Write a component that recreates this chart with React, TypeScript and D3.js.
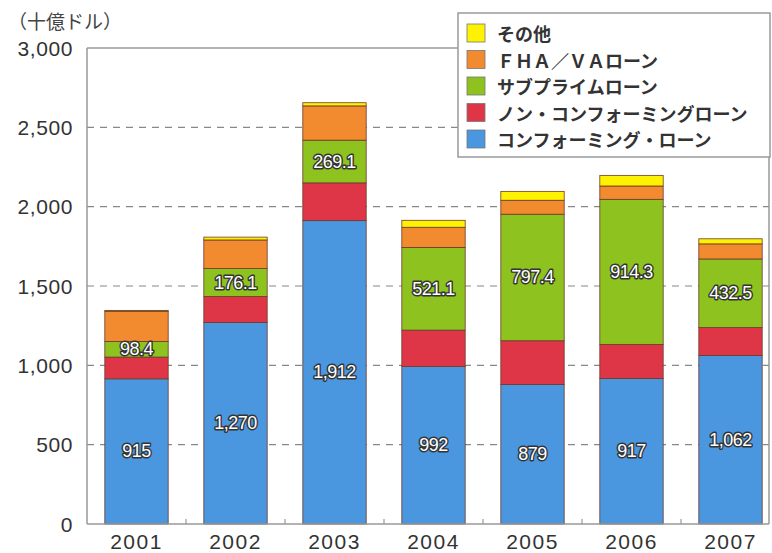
import React from "react";
import * as d3 from "d3";

const years = ["2001", "2002", "2003", "2004", "2005", "2006", "2007"];
const conforming = [915, 1270, 1912, 992, 879, 917, 1062];
const nonConforming = [137, 164, 238, 230, 276, 215, 176];
const subprime = [98.4, 176.1, 269.1, 521.1, 797.4, 914.3, 432.5];
const fhaVa = [190, 180, 216, 127, 88, 84, 95];
const other = [6, 18, 20, 44, 56, 67, 32];

const seriesNames = [
  "コンフォーミング・ローン",
  "ノン・コンフォーミングローン",
  "サブプライムローン",
  "ＦＨＡ／ＶＡローン",
  "その他",
];
const seriesColors = ["#4a97e0", "#de3547", "#8dc21f", "#f28a30", "#fff200"];
const labeledSeries = [0, 2];
const labelTexts = [
  ["915", "1,270", "1,912", "992", "879", "917", "1,062"],
  [],
  ["98.4", "176.1", "269.1", "521.1", "797.4", "914.3", "432.5"],
];
const yTicks = [0, 500, 1000, 1500, 2000, 2500, 3000];
const yTitle = "（十億ドル）";

export default function App() {
  const W = 772, H = 553;
  const left = 87, top = 48, bottom = 524, frameRight = 769;
  const x = d3.scaleBand<string>().domain(years).range([left, 780]).paddingInner(0.36).paddingOuter(0.18);
  const y = d3.scaleLinear().domain([0, 3000]).range([bottom, top]);
  const data = years.map((yr, i) => ({
    year: yr,
    s0: conforming[i], s1: nonConforming[i], s2: subprime[i], s3: fhaVa[i], s4: other[i],
  }));
  const stack = d3.stack<any>().keys(["s0", "s1", "s2", "s3", "s4"]);
  const layers = stack(data);
  const step = x.step();
  const fmt = d3.format(",");
  const font = "'Liberation Sans', Arial, sans-serif";
  const jp = "'Noto Sans CJK JP', sans-serif";

  return (
    <svg width={W} height={H} style={{ position: "absolute", left: 0, top: 0, background: "#fff" }}>
      {yTicks.filter(t => t > 0 && t < 3000).map(t => (
        <line key={t} x1={left} x2={frameRight} y1={y(t)} y2={y(t)} stroke="#888" strokeWidth={1.2} strokeDasharray="7,6" />
      ))}
      {layers.map((layer, li) => (
        <g key={li}>
          {layer.map((d, i) => (
            <rect key={i} x={x(years[i])} width={x.bandwidth()} y={y(d[1])} height={y(d[0]) - y(d[1])}
              fill={seriesColors[li]} stroke="#6a3b2a" strokeWidth={0.8} />
          ))}
        </g>
      ))}
      {labeledSeries.map(li => layers[li].map((d, i) => (
        <text key={li + "-" + i} x={(x(years[i]) as number) + x.bandwidth() / 2} y={(y(d[0]) + y(d[1])) / 2}
          textAnchor="middle" dominantBaseline="central" fontFamily={font} fontSize={18}
          fill="#fff" stroke="#333" strokeWidth={2.8} paintOrder="stroke" strokeLinejoin="round" letterSpacing={-0.5}>
          {labelTexts[li][i]}
        </text>
      )))}
      <line x1={left} x2={frameRight} y1={top} y2={top} stroke="#999" strokeWidth={1.5} />
      <line x1={frameRight} x2={frameRight} y1={top} y2={bottom} stroke="#999" strokeWidth={1.5} />
      <line x1={left} x2={left} y1={top} y2={bottom} stroke="#999" strokeWidth={1.5} />
      <line x1={left} x2={frameRight} y1={bottom} y2={bottom} stroke="#999" strokeWidth={1.5} />
      {years.slice(1).map((yr, i) => (
        <line key={yr} x1={left + step * (i + 1)} x2={left + step * (i + 1)} y1={bottom} y2={bottom - 5} stroke="#999" strokeWidth={1.2} />
      ))}
      {yTicks.map(t => (
        <text key={t} x={73} y={y(t)} textAnchor="end" dominantBaseline="central" fontFamily={font} fontSize={21} letterSpacing={0.6} fill="#333">
          {fmt(t)}
        </text>
      ))}
      {years.map(yr => (
        <text key={yr} x={(x(yr) as number) + x.bandwidth() / 2} y={549} textAnchor="middle" fontFamily={font} fontSize={21} letterSpacing={1.5} fill="#333">
          {yr}
        </text>
      ))}
      <text x={8} y={29} fontFamily={jp} fontSize={19} fill="#444">{yTitle}</text>
      <rect x={458} y={13} width={312} height={144} fill="#fff" stroke="#999" strokeWidth={1.5} />
      {seriesNames.slice().reverse().map((name, k) => {
        const ci = seriesNames.length - 1 - k;
        const cy = 33 + k * 26.5;
        return (
          <g key={name}>
            <rect x={467} y={cy - 9} width={18} height={18} fill={seriesColors[ci]} stroke="#777" strokeWidth={0.8} />
            <text x={497} y={cy} dominantBaseline="central" fontFamily={jp} fontWeight={700} fontSize={18} fill="#333">{name}</text>
          </g>
        );
      })}
    </svg>
  );
}
